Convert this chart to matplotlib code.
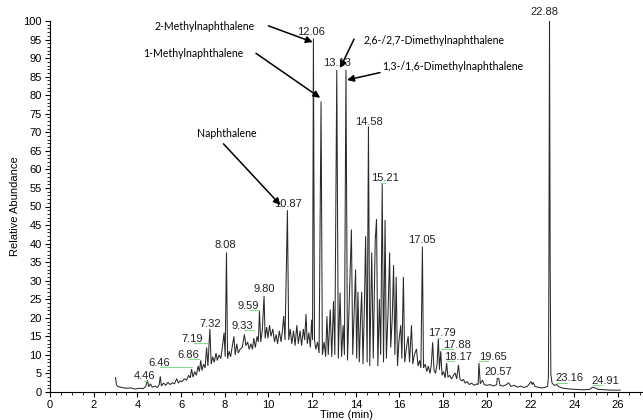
import matplotlib
matplotlib.use("Agg")
import matplotlib.pyplot as plt
from matplotlib.ticker import MultipleLocator

# ---- chromatogram trace (retention time in min, relative abundance %) ----
times = [3.00, 3.04, 3.10, 3.30, 3.50, 3.70, 3.90, 4.10, 4.25, 4.38, 4.46, 4.52, 4.60, 4.68, 4.80, 4.92,
         5.00, 5.05, 5.10, 5.20, 5.30, 5.40, 5.50, 5.60, 5.70, 5.80, 5.88, 5.95, 6.05, 6.15, 6.25, 6.35,
         6.42, 6.48, 6.55, 6.62, 6.70, 6.78, 6.84, 6.90, 6.96, 7.03, 7.10, 7.17, 7.23, 7.32, 7.38, 7.45,
         7.52, 7.60, 7.66, 7.74, 7.82, 7.90, 7.97, 8.02, 8.08, 8.13, 8.20, 8.27, 8.35, 8.42, 8.48, 8.55,
         8.62, 8.70, 8.80, 8.90, 8.97, 9.05, 9.12, 9.20, 9.27, 9.33, 9.40, 9.48, 9.54, 9.59, 9.65, 9.72,
         9.80, 9.85, 9.92, 9.98, 10.05, 10.12, 10.20, 10.28, 10.35, 10.42, 10.50, 10.58, 10.65, 10.70,
         10.76, 10.87, 10.93, 11.00, 11.07, 11.15, 11.22, 11.30, 11.37, 11.45, 11.52, 11.60, 11.66, 11.72,
         11.78, 11.85, 11.92, 11.98, 12.02, 12.06, 12.11, 12.17, 12.25, 12.32, 12.41, 12.47, 12.55, 12.62,
         12.68, 12.74, 12.83, 12.90, 12.98, 13.04, 13.13, 13.20, 13.28, 13.35, 13.42, 13.48, 13.55, 13.62,
         13.68, 13.74, 13.80, 13.86, 13.93, 13.99, 14.04, 14.10, 14.16, 14.22, 14.27, 14.33, 14.39, 14.45,
         14.52, 14.58, 14.64, 14.73, 14.80, 14.89, 14.95, 15.01, 15.08, 15.14, 15.21, 15.27, 15.34, 15.40,
         15.48, 15.55, 15.60, 15.67, 15.73, 15.79, 15.85, 15.91, 15.98, 16.06, 16.11, 16.18, 16.24, 16.32,
         16.40, 16.46, 16.55, 16.61, 16.68, 16.78, 16.85, 16.92, 16.98, 17.05, 17.10, 17.18, 17.25, 17.32,
         17.40, 17.46, 17.52, 17.58, 17.65, 17.72, 17.78, 17.83, 17.89, 17.95, 18.02, 18.09, 18.16, 18.22,
         18.30, 18.38, 18.47, 18.55, 18.62, 18.70, 18.77, 18.85, 18.93, 19.00, 19.10, 19.20, 19.30, 19.42,
         19.55, 19.60, 19.64, 19.70, 19.80, 19.88, 20.00, 20.15, 20.30, 20.45, 20.48, 20.55, 20.60, 20.75,
         20.90, 21.00, 21.10, 21.25, 21.40, 21.55, 21.70, 21.85, 21.95, 22.02, 22.08, 22.12, 22.20, 22.35,
         22.50, 22.65, 22.78, 22.82, 22.84, 22.87, 22.90, 22.93, 22.98, 23.08, 23.20, 23.30, 23.50, 23.80,
         24.10, 24.40, 24.70, 24.85, 24.95, 25.10, 25.40, 25.70, 26.10]
abundance = [3.9, 2.0, 1.5, 1.2, 1.0, 1.1, 0.8, 1.0, 0.9, 1.4, 3.2, 1.4, 2.2, 1.3, 1.6, 1.2,
             2.0, 4.2, 1.6, 2.4, 1.8, 2.6, 2.0, 2.5, 2.2, 3.6, 2.4, 3.0, 2.8, 3.6, 3.2, 4.5,
             3.8, 6.2, 4.0, 5.5, 4.5, 7.0, 5.5, 8.5, 5.8, 7.5, 6.5, 12.0, 7.0, 17.0, 7.5, 9.5,
             8.0, 10.5, 8.5, 10.0, 9.0, 12.5, 16.0, 9.5, 37.6, 9.0, 11.0, 9.5, 12.5, 15.0, 10.0, 13.0,
             10.5, 11.5, 12.0, 15.5, 12.5, 13.5, 11.5, 13.0, 11.5, 14.5, 12.0, 15.0, 13.5, 21.8, 13.5, 16.5,
             25.9, 14.5, 17.5, 14.5, 18.0, 15.0, 17.0, 13.5, 15.5, 13.0, 16.5, 13.5, 17.0, 20.5,
             14.0, 49.0, 14.0, 17.0, 13.0, 16.5, 12.5, 18.0, 13.0, 16.5, 12.5, 17.0, 14.0, 21.0,
             13.0, 16.0, 12.0, 19.5, 14.0, 95.3, 14.0, 11.5, 13.5, 10.5, 78.3, 10.0, 13.5, 9.5,
             20.4, 10.0, 22.2, 9.5, 24.5, 10.0, 86.8, 9.0, 26.8, 9.5, 18.0, 10.0, 86.8, 8.5,
             20.0, 32.2, 43.8, 10.0, 22.0, 33.0, 9.0, 27.0, 8.0, 20.0, 27.0, 7.5, 22.0, 42.0,
             8.0, 71.6, 7.0, 37.6, 9.0, 41.0, 46.6, 7.0, 25.0, 10.0, 56.3, 8.0, 46.4, 9.0,
             22.0, 37.6, 12.0, 20.0, 34.2, 10.0, 31.0, 7.0, 14.0, 18.0, 9.0, 31.0, 8.0, 12.0,
             15.0, 8.0, 18.0, 7.5, 10.0, 11.6, 7.0, 8.5, 6.5, 39.2, 6.5, 7.5, 5.5, 7.0,
             5.0, 7.5, 13.4, 6.0, 5.0, 7.5, 14.4, 6.0, 11.0, 4.5, 5.5, 3.8, 7.8, 4.0,
             4.5, 3.5, 4.5, 5.1, 3.5, 7.3, 3.5, 3.0, 3.4, 2.4, 2.8, 2.0, 2.4, 1.8,
             2.2, 2.0, 7.8, 2.2, 3.2, 2.0, 1.8, 2.0, 1.6, 2.0, 3.7, 3.6, 1.8, 1.6,
             2.0, 2.5, 1.5, 1.8, 1.3, 1.6, 1.2, 1.5, 2.2, 2.8, 2.0, 2.6, 1.5, 1.3,
             1.1, 1.2, 1.5, 4.0, 30.0, 100.0, 35.0, 5.0, 2.5, 1.8, 2.0, 1.4, 1.0, 0.8,
             0.7, 0.6, 0.7, 1.3, 1.1, 0.7, 0.6, 0.5, 0.5]

# ---- labelled peaks ----
peak_labels = ["4.46", "6.46", "6.86", "7.19", "7.32", "8.08", "9.33", "9.59", "9.80",
               "10.87", "12.06", "13.13", "14.58", "15.21", "17.05", "17.79", "17.88",
               "18.17", "19.65", "20.57", "22.88", "23.16", "24.91"]

# ---- compound names and the peaks they point to ----
compounds = ["2-Methylnaphthalene", "1-Methylnaphthalene", "Naphthalene",
             "2,6-/2,7-Dimethylnaphthalene", "1,3-/1,6-Dimethylnaphthalene"]

# label layout: text x, text y, leader start x, leader end x, leader y (None = no leader)
label_layout = {
    "4.46": (4.32, 4.4, 4.30, 4.46, 3.0),
    "6.46": (5.00, 7.9, 5.05, 6.48, 6.8),
    "6.86": (6.32, 9.9, 6.35, 6.84, 8.8),
    "7.19": (6.53, 14.4, 6.58, 7.17, 13.1),
    "7.32": (7.33, 18.4, None, None, None),
    "8.08": (8.02, 39.6, None, None, None),
    "9.33": (8.82, 17.9, 8.90, 9.33, 16.6),
    "9.59": (9.08, 23.3, 9.16, 9.59, 22.1),
    "9.80": (9.82, 27.7, None, None, None),
    "10.87": (10.91, 50.6, None, None, None),
    "12.06": (11.97, 97.0, None, None, None),
    "13.13": (13.13, 88.7, None, None, None),
    "14.58": (14.60, 72.8, None, None, None),
    "15.21": (15.33, 57.6, 15.21, 15.33, 56.3),
    "17.05": (17.05, 40.9, None, None, None),
    "17.79": (17.93, 15.9, 17.78, 17.85, 14.6),
    "17.88": (18.62, 12.8, 17.89, 18.45, 11.5),
    "18.17": (18.68, 9.5, 18.16, 18.50, 8.3),
    "19.65": (20.28, 9.5, 19.64, 20.05, 8.3),
    "20.57": (20.53, 5.5, None, None, None),
    "22.88": (22.66, 102.4, None, None, None),
    "23.16": (23.78, 3.7, 23.20, 23.65, 2.5),
    "24.91": (25.41, 3.0, 24.88, 25.25, 1.8),
}

# name layout: text x, text y, ha, arrow start (x, y), arrow tip (x, y)
name_layout = [
    (7.10, 98.6, 'center', (10.0, 98.7), (12.03, 94.3)),
    (6.55, 91.3, 'center', (9.43, 91.3), (12.37, 79.3)),
    (8.10, 69.6, 'center', (7.94, 66.9), (10.55, 50.4)),
    (14.35, 94.7, 'left', (13.92, 95.1), (13.28, 87.3)),
    (15.19, 87.7, 'left', (15.11, 86.1), (13.60, 84.1)),
]

plt.rcParams['font.family'] = ['Liberation Sans', 'DejaVu Sans']

fig = plt.figure(figsize=(6.43, 4.2), dpi=100)
ax = fig.add_axes([50/643, 28/420, 1 - 50/643, 371/420])

ax.plot(times, abundance, color='#2a2a2a', lw=0.75, solid_joinstyle='miter')

ax.set_xlim(0, 27.15)
ax.set_ylim(0, 100)
ax.xaxis.set_major_locator(MultipleLocator(2))
ax.xaxis.set_minor_locator(MultipleLocator(0.5))
ax.yaxis.set_major_locator(MultipleLocator(5))
ax.yaxis.set_minor_locator(MultipleLocator(1))
ax.tick_params(which='major', length=3.5, width=0.8, labelsize=8, pad=2.5)
ax.tick_params(which='minor', length=2.2, width=0.6)
for s in ['top', 'right']:
    ax.spines[s].set_visible(False)
ax.set_xlabel("Time (min)", fontsize=8, labelpad=0)
ax.set_ylabel("Relative Abundance", fontsize=8, labelpad=2)

for lab in peak_labels:
    lx, ly, gx0, gx1, gy = label_layout[lab]
    ax.text(lx, ly, lab, fontsize=8, ha='center', va='center', color='#222222', clip_on=False)
    if gx0 is not None:
        ax.plot([gx0, gx1], [gy, gy], color='#8fd88f', lw=0.8, clip_on=False)

cfont = dict(family=['Lato', 'DejaVu Sans'], fontsize=7.6)
arrowp = dict(arrowstyle='-|>', color='black', lw=1.1, mutation_scale=10, shrinkA=0, shrinkB=0)
for name, (tx, ty, ha, start, tip) in zip(compounds, name_layout):
    ax.text(tx, ty, name, ha=ha, va='center', clip_on=False, **cfont)
    ax.annotate("", xy=tip, xytext=start, arrowprops=arrowp, annotation_clip=False)

fig.savefig("out.png", dpi=100)
